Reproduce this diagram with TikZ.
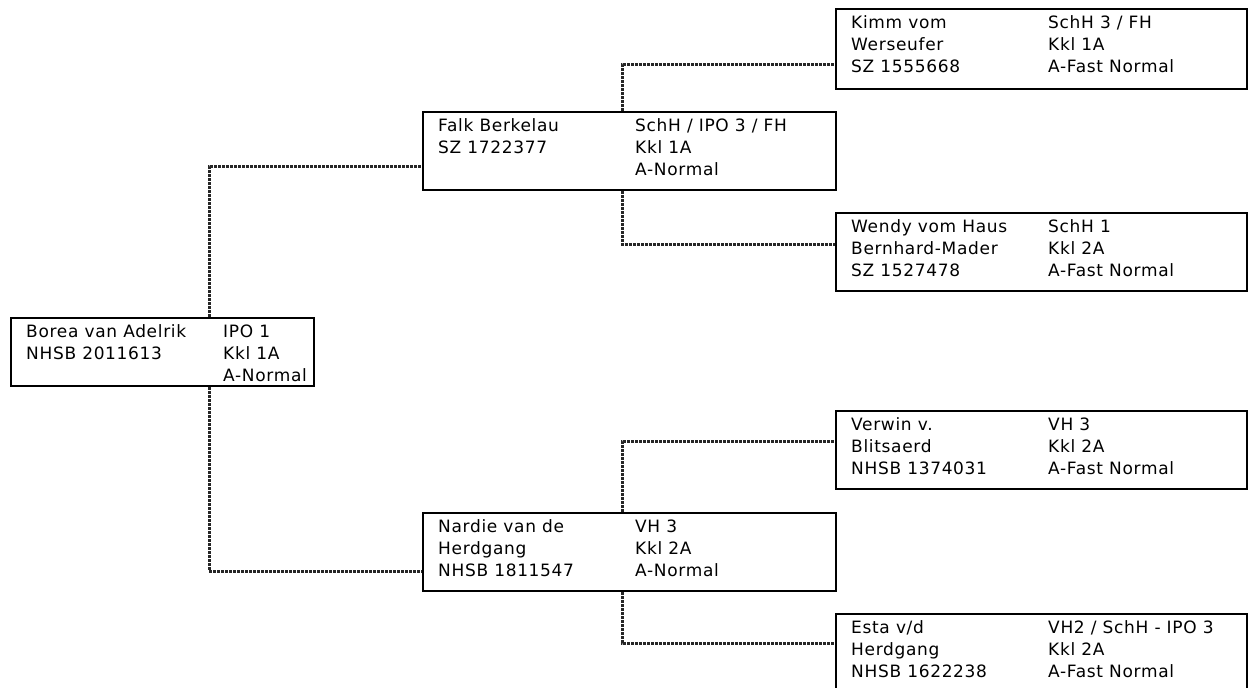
\documentclass[tikz,border=0pt]{standalone}
\usepackage{fontspec}
\setmainfont{DejaVu Sans}[LetterSpace=4]
\usetikzlibrary{calc}
\tikzset{
  box/.style={draw=black, line width=2pt, fill=none, inner sep=0pt, anchor=north west},
  txt/.style={anchor=base west, inner sep=0pt, font=\fontsize{17pt}{20pt}\selectfont, text=black},
  conn/.style={draw=black!85, line width=3pt, dash pattern=on 3pt off 1pt}
}
% box name, line number, first column, second column
\newcommand\pline[4]{%
  \node[txt] (#1-a#2) at ($(#1.north west)+(16,{20+22*(#2-1)})$) {#3};
  \node[txt] (#1-b#2) at ($(#1.north west)+(213,{20+22*(#2-1)})$) {#4};}
\newcommand\plineb[3]{%
  \node[txt] (#1-b#2) at ($(#1.north west)+(213,{20+22*(#2-1)})$) {#3};}
\begin{document}
\begin{tikzpicture}[x=1pt,y=-1pt]
\fill[white] (0,0) rectangle (1248,688);
\useasboundingbox (0,0) rectangle (1248,688);

\node[box, minimum width=303pt, minimum height=68pt] (root) at (10,317) {};
\node[box, minimum width=413pt, minimum height=78pt] (falk) at (422,111) {};
\node[box, minimum width=411pt, minimum height=80pt] (kimm) at (835,8) {};
\node[box, minimum width=411pt, minimum height=78pt] (wendy) at (835,212) {};
\node[box, minimum width=413pt, minimum height=78pt] (nardie) at (422,512) {};
\node[box, minimum width=411pt, minimum height=78pt] (verwin) at (835,410) {};
\node[box, minimum width=411pt, minimum height=95pt] (esta) at (835,613) {};

\draw[conn] ($(root.north west)+(199,0)$) |- ($(falk.north west)+(0,55)$);
\draw[conn] ($(root.south west)+(199,0)$) |- ($(nardie.north west)+(0,59)$);
\draw[conn] ($(falk.north west)+(200,0)$) |- ($(kimm.north west)+(0,56)$);
\draw[conn] ($(falk.south west)+(200,0)$) |- ($(wendy.north west)+(0,32)$);
\draw[conn] ($(nardie.north west)+(200,0)$) |- ($(verwin.north west)+(0,31)$);
\draw[conn] ($(nardie.south west)+(200,0)$) |- ($(esta.north west)+(0,30)$);

\pline{root}{1}{Borea van Adelrik}{IPO 1}
\pline{root}{2}{NHSB 2011613}{Kkl 1A}
\plineb{root}{3}{A-Normal}

\pline{falk}{1}{Falk Berkelau}{SchH / IPO 3 / FH}
\pline{falk}{2}{SZ 1722377}{Kkl 1A}
\plineb{falk}{3}{A-Normal}

\pline{kimm}{1}{Kimm vom}{SchH 3 / FH}
\pline{kimm}{2}{Werseufer}{Kkl 1A}
\pline{kimm}{3}{SZ 1555668}{A-Fast Normal}

\pline{wendy}{1}{Wendy vom Haus}{SchH 1}
\pline{wendy}{2}{Bernhard-Mader}{Kkl 2A}
\pline{wendy}{3}{SZ 1527478}{A-Fast Normal}

\pline{nardie}{1}{Nardie van de}{VH 3}
\pline{nardie}{2}{Herdgang}{Kkl 2A}
\pline{nardie}{3}{NHSB 1811547}{A-Normal}

\pline{verwin}{1}{Verwin v.}{VH 3}
\pline{verwin}{2}{Blitsaerd}{Kkl 2A}
\pline{verwin}{3}{NHSB 1374031}{A-Fast Normal}

\pline{esta}{1}{Esta v/d}{VH2 / SchH - IPO 3}
\pline{esta}{2}{Herdgang}{Kkl 2A}
\pline{esta}{3}{NHSB 1622238}{A-Fast Normal}
\end{tikzpicture}
\end{document}
